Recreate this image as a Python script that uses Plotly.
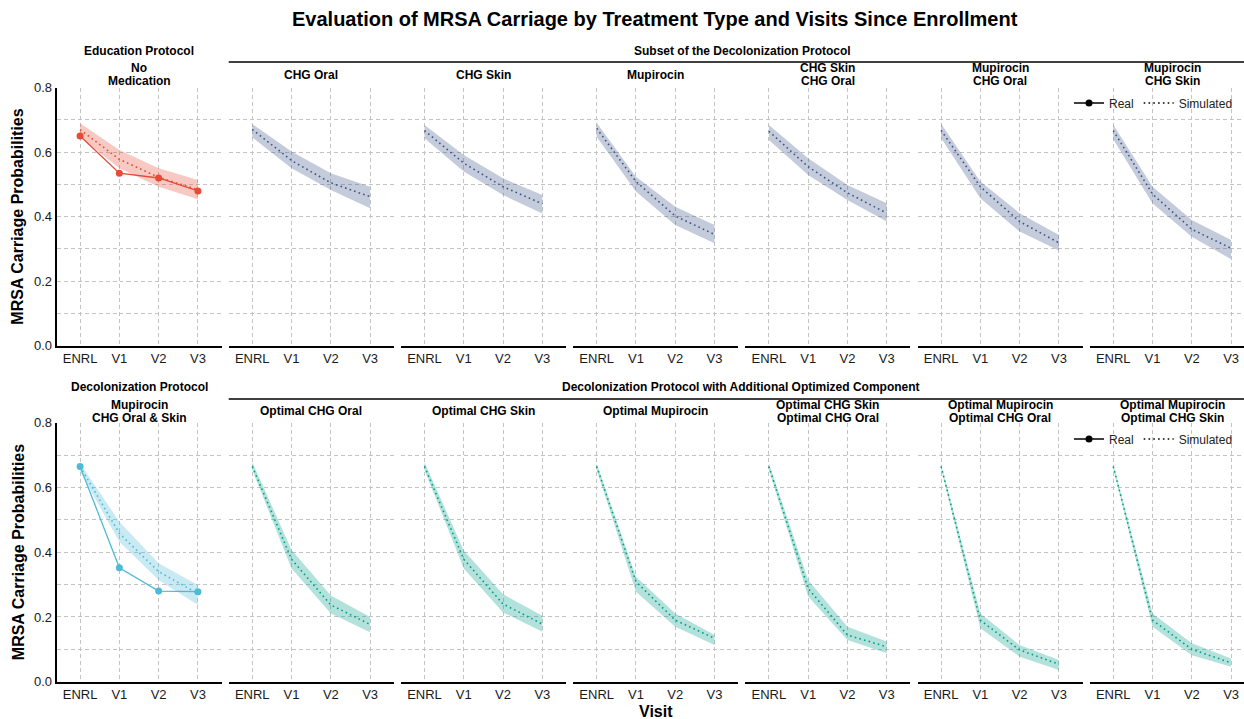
import plotly.graph_objects as go

W, H = 1244, 719

visits = ["ENRL", "V1", "V2", "V3"]

# ---- top row: Education protocol + subset of decolonization protocol
edu_real = [0.65, 0.535, 0.52, 0.48]
edu_sim = [0.67, 0.578, 0.522, 0.484]
edu_lo = [0.648, 0.55, 0.493, 0.454]
edu_hi = [0.69, 0.607, 0.55, 0.514]

chg_oral_sim = [0.671, 0.574, 0.505, 0.462]
chg_oral_lo = [0.646, 0.55, 0.483, 0.426]
chg_oral_hi = [0.687, 0.602, 0.535, 0.493]

chg_skin_sim = [0.667, 0.566, 0.493, 0.44]
chg_skin_lo = [0.643, 0.54, 0.467, 0.41]
chg_skin_hi = [0.684, 0.591, 0.519, 0.467]

mup_sim = [0.674, 0.509, 0.402, 0.345]
mup_lo = [0.648, 0.478, 0.374, 0.318]
mup_hi = [0.691, 0.524, 0.431, 0.374]

skin_oral_sim = [0.665, 0.555, 0.474, 0.411]
skin_oral_lo = [0.638, 0.529, 0.452, 0.385]
skin_oral_hi = [0.684, 0.581, 0.498, 0.442]

mup_oral_sim = [0.668, 0.493, 0.385, 0.319]
mup_oral_lo = [0.644, 0.457, 0.354, 0.295]
mup_oral_hi = [0.688, 0.509, 0.411, 0.343]

mup_skin_sim = [0.667, 0.47, 0.361, 0.302]
mup_skin_lo = [0.64, 0.441, 0.338, 0.268]
mup_skin_hi = [0.685, 0.493, 0.39, 0.328]

# ---- bottom row: full decolonization protocol + optimized components
decol_real = [0.665, 0.352, 0.28, 0.278]
decol_sim = [0.665, 0.458, 0.34, 0.272]
decol_lo = [0.649, 0.432, 0.314, 0.237]
decol_hi = [0.675, 0.494, 0.366, 0.299]

opt_oral_sim = [0.665, 0.378, 0.237, 0.177]
opt_oral_lo = [0.654, 0.35, 0.211, 0.153]
opt_oral_hi = [0.678, 0.407, 0.266, 0.2]

opt_skin_sim = [0.665, 0.378, 0.24, 0.178]
opt_skin_lo = [0.654, 0.35, 0.214, 0.154]
opt_skin_hi = [0.678, 0.405, 0.27, 0.204]

opt_mup_sim = [0.665, 0.309, 0.19, 0.134]
opt_mup_lo = [0.655, 0.278, 0.17, 0.113]
opt_mup_hi = [0.675, 0.324, 0.211, 0.144]

opt_skin_oral_sim = [0.665, 0.288, 0.144, 0.108]
opt_skin_oral_lo = [0.655, 0.263, 0.129, 0.088]
opt_skin_oral_hi = [0.675, 0.314, 0.17, 0.124]

opt_mup_oral_sim = [0.665, 0.19, 0.098, 0.054]
opt_mup_oral_lo = [0.658, 0.165, 0.077, 0.036]
opt_mup_oral_hi = [0.672, 0.211, 0.113, 0.067]

opt_mup_skin_sim = [0.665, 0.19, 0.1, 0.058]
opt_mup_skin_lo = [0.658, 0.17, 0.082, 0.046]
opt_mup_skin_hi = [0.672, 0.211, 0.119, 0.072]

panel_titles = [
    ["No", "Medication"], ["CHG Oral"], ["CHG Skin"], ["Mupirocin"],
    ["CHG Skin", "CHG Oral"], ["Mupirocin", "CHG Oral"], ["Mupirocin", "CHG Skin"],
    ["Mupirocin", "CHG Oral & Skin"], ["Optimal CHG Oral"], ["Optimal CHG Skin"],
    ["Optimal Mupirocin"], ["Optimal CHG Skin", "Optimal CHG Oral"],
    ["Optimal Mupirocin", "Optimal CHG Oral"], ["Optimal Mupirocin", "Optimal CHG Skin"],
]

RED, NAVY, TEAL, CYAN = "#E64B35", "#3C5488", "#00A087", "#4DBBD5"

def rgba(hexc, a):
    h = hexc.lstrip("#")
    return f"rgba({int(h[0:2],16)},{int(h[2:4],16)},{int(h[4:6],16)},{a})"

panels = [
    (edu_sim, edu_lo, edu_hi, edu_real, RED),
    (chg_oral_sim, chg_oral_lo, chg_oral_hi, None, NAVY),
    (chg_skin_sim, chg_skin_lo, chg_skin_hi, None, NAVY),
    (mup_sim, mup_lo, mup_hi, None, NAVY),
    (skin_oral_sim, skin_oral_lo, skin_oral_hi, None, NAVY),
    (mup_oral_sim, mup_oral_lo, mup_oral_hi, None, NAVY),
    (mup_skin_sim, mup_skin_lo, mup_skin_hi, None, NAVY),
    (decol_sim, decol_lo, decol_hi, decol_real, CYAN),
    (opt_oral_sim, opt_oral_lo, opt_oral_hi, None, TEAL),
    (opt_skin_sim, opt_skin_lo, opt_skin_hi, None, TEAL),
    (opt_mup_sim, opt_mup_lo, opt_mup_hi, None, TEAL),
    (opt_skin_oral_sim, opt_skin_oral_lo, opt_skin_oral_hi, None, TEAL),
    (opt_mup_oral_sim, opt_mup_oral_lo, opt_mup_oral_hi, None, TEAL),
    (opt_mup_skin_sim, opt_mup_skin_lo, opt_mup_skin_hi, None, TEAL),
]

FONT = "Liberation Sans, Arial, Helvetica, sans-serif"
GRID = "#C4C4C4"
GDASH = "4px,3px"
DOT = "1.6px,3.2px"

# layout geometry in pixels
X0, STEP, PW = 56.5, 172.2, 165.0
UNIT = PW / 4.2
ROW_Y = [(87.7, 345.7), (422.7, 681.7)]

def px(x):
    return x / W

def py(y):
    return 1 - y / H

fig = go.Figure()
layout = {}
annotations = []
shapes = []

yvals = [0, 0.1, 0.2, 0.3, 0.4, 0.5, 0.6, 0.7, 0.8]
ytext = ["0.0", "", "0.2", "", "0.4", "", "0.6", "", "0.8"]

for i, (sim, lo, hi, real, col) in enumerate(panels):
    r, c = divmod(i, 7)
    k = i + 1
    xs = "x" if k == 1 else f"x{k}"
    ys = "y" if k == 1 else f"y{k}"
    left = X0 + c * STEP
    right = left + PW
    xr_end = 3.6
    if right > W:
        xr_end = -0.6 + (W - left) / UNIT
        right = W
    top, bot = ROW_Y[r]

    fig.add_trace(go.Scatter(
        x=visits + visits[::-1], y=hi + lo[::-1], fill="toself",
        fillcolor=rgba(col, 0.3), line=dict(width=0), mode="lines",
        showlegend=False, hoverinfo="skip", xaxis=xs, yaxis=ys))
    fig.add_trace(go.Scatter(
        x=visits, y=sim, mode="lines", line=dict(color=col, width=1.6, dash=DOT),
        showlegend=False, xaxis=xs, yaxis=ys))
    if real is not None:
        fig.add_trace(go.Scatter(
            x=visits, y=real, mode="lines+markers", line=dict(color=col, width=1.3),
            marker=dict(color=col, size=7), showlegend=False, xaxis=xs, yaxis=ys))

    xa = dict(domain=[px(left), px(right)], anchor=ys, type="category",
              categoryorder="array", categoryarray=visits, range=[-0.6, xr_end],
              showline=True, linecolor="black", linewidth=1.6, ticks="",
              showgrid=True, gridcolor=GRID, griddash=GDASH, gridwidth=1,
              zeroline=False, tickfont=dict(size=13, color="#1a1a1a", family=FONT),
              fixedrange=True, automargin=False)
    ya = dict(domain=[py(bot), py(top)], anchor=xs, range=[0, 0.8],
              tickvals=yvals, ticktext=ytext, showgrid=True, gridcolor=GRID,
              griddash=GDASH, gridwidth=1, zeroline=False, ticks="",
              showticklabels=(c == 0), showline=(c == 0), linecolor="black",
              linewidth=1.6, tickfont=dict(size=13, color="#1a1a1a", family=FONT),
              fixedrange=True, automargin=False)
    layout["xaxis" if k == 1 else f"xaxis{k}"] = xa
    layout["yaxis" if k == 1 else f"yaxis{k}"] = ya

    # strip titles
    cx = (X0 + c * STEP + X0 + c * STEP + PW) / 2
    lines = panel_titles[i]
    if r == 0:
        ypos = [75.0] if len(lines) == 1 else [68.3, 81.0]
    else:
        ypos = [410.7] if len(lines) == 1 else [405.0, 417.7]
    for txt, yy in zip(lines, ypos):
        annotations.append(dict(text=f"<b>{txt}</b>", x=px(cx), y=py(yy), xref="paper",
                                yref="paper", xanchor="center", yanchor="middle",
                                showarrow=False, font=dict(size=12, color="black", family=FONT)))

# group headers
groups = [
    ("Education Protocol", X0 + PW / 2, 51.0),
    ("Subset of the Decolonization Protocol", 742.0, 51.0),
    ("Decolonization Protocol", X0 + PW / 2, 387.0),
    ("Decolonization Protocol with Additional Optimized Component", 741.0, 386.5),
]
for txt, cx, yy in groups:
    annotations.append(dict(text=f"<b>{txt}</b>", x=px(cx), y=py(yy), xref="paper",
                            yref="paper", xanchor="center", yanchor="middle",
                            showarrow=False, font=dict(size=12, color="black", family=FONT)))
for yy in (62.0, 399.0):
    shapes.append(dict(type="line", xref="paper", yref="paper", x0=px(X0 + STEP),
                       x1=1.0, y0=py(yy), y1=py(yy), line=dict(color="black", width=1.6)))

# axis titles
for r in range(2):
    top, bot = ROW_Y[r]
    annotations.append(dict(text="<b>MRSA Carriage Probabilities</b>", x=px(18), y=py((top + bot) / 2),
                            xref="paper", yref="paper", textangle=-90, showarrow=False,
                            xanchor="center", yanchor="middle",
                            font=dict(size=16, color="black", family=FONT)))
annotations.append(dict(text="<b>Visit</b>", x=px(656), y=py(711), xref="paper", yref="paper",
                        showarrow=False, xanchor="center", yanchor="middle",
                        font=dict(size=16, color="black", family=FONT)))
annotations.append(dict(text="<b>Evaluation of MRSA Carriage by Treatment Type and Visits Since Enrollment</b>",
                        x=px(655), y=py(19), xref="paper", yref="paper", showarrow=False,
                        xanchor="center", yanchor="middle",
                        font=dict(size=20, color="black", family=FONT)))

# legend entries (one legend per row)
for lg in ("legend", "legend2"):
    fig.add_trace(go.Scatter(x=[None], y=[None], mode="lines+markers", name="Real",
                             line=dict(color="black", width=1.3), marker=dict(color="black", size=7),
                             legend=lg, showlegend=True))
    fig.add_trace(go.Scatter(x=[None], y=[None], mode="lines", name="Simulated",
                             line=dict(color="black", width=1.6, dash=DOT),
                             legend=lg, showlegend=True))

leg_common = dict(orientation="h", xanchor="right", yanchor="middle", x=px(1238),
                  bgcolor="rgba(0,0,0,0)", font=dict(size=12, color="#222", family=FONT),
                  itemwidth=30, traceorder="normal")

fig.update_layout(
    width=W, height=H, margin=dict(l=0, r=0, t=0, b=0, pad=0, autoexpand=False),
    paper_bgcolor="white", plot_bgcolor="white",
    font=dict(family=FONT, color="black"),
    annotations=annotations, shapes=shapes,
    legend=dict(y=py(103), **leg_common),
    legend2=dict(y=py(439), **leg_common),
    **layout,
)

fig.write_html("out.html")
